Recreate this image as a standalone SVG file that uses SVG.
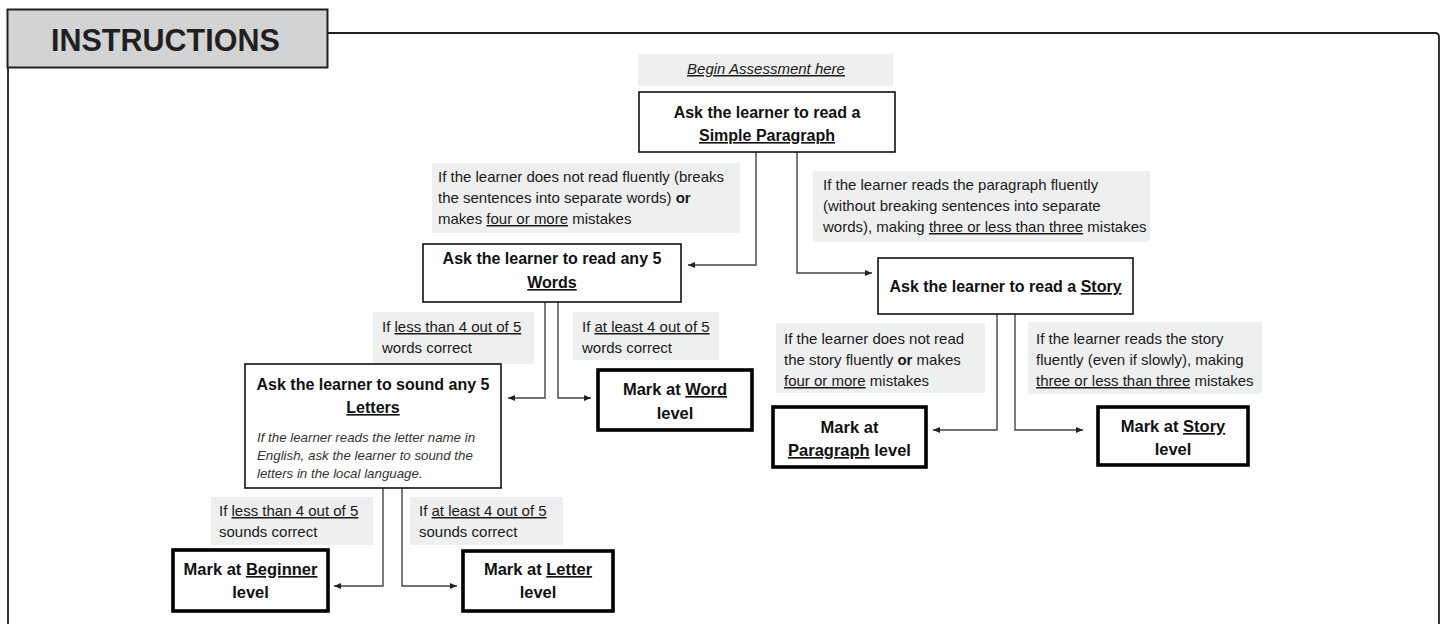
<svg xmlns="http://www.w3.org/2000/svg" width="1447" height="624" viewBox="0 0 1447 624">
<defs>
<style>
.bg{fill:#eeefef;}
.box{fill:#fff;stroke:#111;stroke-width:1.6;}
.mark{fill:#fff;stroke:#000;stroke-width:3.6;}
.t{font-family:"Liberation Sans",Arial,sans-serif;font-size:15px;fill:#1a1a1a;}
.b{font-family:"Liberation Sans",Arial,sans-serif;font-size:16px;font-weight:bold;fill:#111;}
.m{font-family:"Liberation Sans",Arial,sans-serif;font-size:16.5px;font-weight:bold;fill:#111;}
.i{font-family:"Liberation Sans",Arial,sans-serif;font-size:13.3px;font-style:italic;fill:#333;}
.u{text-decoration:underline;}
.conn{fill:none;stroke:#444;stroke-width:1.4;marker-end:url(#ah);}
</style>
<marker id="ah" markerUnits="userSpaceOnUse" markerWidth="8" markerHeight="6" refX="7" refY="3" orient="auto">
<path d="M0,0 L7,3 L0,6 z" fill="#222"/>
</marker>
</defs>
<rect width="1447" height="624" fill="#fff"/>

<g id="frame">
<path d="M327,33 H1435 Q1439,33 1439,37 V624 M8,67 V624" fill="none" stroke="#231f20" stroke-width="1.8"/>
<rect x="7.5" y="9.5" width="320" height="58" fill="#d1d3d4" stroke="#231f20" stroke-width="2"/>
<text x="51" y="51" font-family="Liberation Sans,Arial,sans-serif" font-size="30.5" font-weight="bold" fill="#231f20">INSTRUCTIONS</text>
</g>

<g id="connectors">
<path class="conn" d="M756,152 V265 H688"/>
<path class="conn" d="M797,152 V273 H872"/>
<path class="conn" d="M545,302 V398 H508"/>
<path class="conn" d="M558,302 V398 H591"/>
<path class="conn" d="M383,488 V586 H334"/>
<path class="conn" d="M402,488 V586 H457"/>
<path class="conn" d="M997,314 V430 H933"/>
<path class="conn" d="M1015,314 V430 H1083"/>
</g>

<g id="begin">
<rect class="bg" x="638" y="54" width="255" height="32"/>
<text class="t" x="766" y="74" text-anchor="middle" font-style="italic"><tspan class="u">Begin Assessment here</tspan></text>
</g>

<g id="paragraph-task">
<rect class="box" x="639" y="92" width="256" height="60"/>
<text class="b" x="767" y="118" text-anchor="middle">Ask the learner to read a</text>
<text class="b" x="767" y="141" text-anchor="middle"><tspan class="u">Simple Paragraph</tspan></text>
</g>

<g id="label-not-fluent">
<rect class="bg" x="432" y="163" width="308" height="70"/>
<text class="t" x="438" y="182">If the learner does not read fluently (breaks</text>
<text class="t" x="438" y="203">the sentences into separate words) <tspan font-weight="bold">or</tspan></text>
<text class="t" x="438" y="224">makes <tspan class="u">four or more</tspan> mistakes</text>
</g>

<g id="label-fluent">
<rect class="bg" x="813" y="171" width="337" height="71"/>
<text class="t" x="823" y="190">If the learner reads the paragraph fluently</text>
<text class="t" x="823" y="211">(without breaking sentences into separate</text>
<text class="t" x="823" y="232">words), making <tspan class="u">three or less than three</tspan> mistakes</text>
</g>

<g id="words-task">
<rect class="box" x="423" y="244" width="258" height="58"/>
<text class="b" x="552" y="264" text-anchor="middle">Ask the learner to read any 5</text>
<text class="b" x="552" y="288" text-anchor="middle"><tspan class="u">Words</tspan></text>
</g>

<g id="story-task">
<rect class="box" x="878" y="258" width="255" height="56"/>
<text class="b" x="1005.5" y="292" text-anchor="middle">Ask the learner to read a <tspan class="u">Story</tspan></text>
</g>

<g id="label-words-less">
<rect class="bg" x="373" y="312" width="161" height="52"/>
<text class="t" x="382" y="332">If <tspan class="u">less than 4 out of 5</tspan></text>
<text class="t" x="382" y="353">words correct</text>
</g>

<g id="label-words-atleast">
<rect class="bg" x="573" y="312" width="146" height="48"/>
<text class="t" x="582" y="332">If <tspan class="u">at least 4 out of 5</tspan></text>
<text class="t" x="582" y="353">words correct</text>
</g>

<g id="letters-task">
<rect class="box" x="245" y="364" width="256" height="124"/>
<text class="b" x="373" y="390" text-anchor="middle">Ask the learner to sound any 5</text>
<text class="b" x="373" y="413" text-anchor="middle"><tspan class="u">Letters</tspan></text>
<text class="i" x="257" y="442">If the learner reads the letter name in</text>
<text class="i" x="257" y="460">English, ask the learner to sound the</text>
<text class="i" x="257" y="478">letters in the local language.</text>
</g>

<g id="word-level">
<rect class="mark" x="598" y="370" width="154" height="60"/>
<text class="m" x="675" y="395" text-anchor="middle">Mark at <tspan class="u">Word</tspan></text>
<text class="m" x="675" y="419" text-anchor="middle">level</text>
</g>

<g id="label-sounds-less">
<rect class="bg" x="211" y="497" width="162" height="48"/>
<text class="t" x="219" y="516">If <tspan class="u">less than 4 out of 5</tspan></text>
<text class="t" x="219" y="537">sounds correct</text>
</g>

<g id="label-sounds-atleast">
<rect class="bg" x="410" y="497" width="153" height="48"/>
<text class="t" x="419" y="516">If <tspan class="u">at least 4 out of 5</tspan></text>
<text class="t" x="419" y="537">sounds correct</text>
</g>

<g id="beginner-level">
<rect class="mark" x="173" y="550" width="155" height="61"/>
<text class="m" x="250.5" y="575" text-anchor="middle">Mark at <tspan class="u">Beginner</tspan></text>
<text class="m" x="250.5" y="598" text-anchor="middle">level</text>
</g>

<g id="letter-level">
<rect class="mark" x="463" y="551" width="150" height="60"/>
<text class="m" x="538" y="575" text-anchor="middle">Mark at <tspan class="u">Letter</tspan></text>
<text class="m" x="538" y="598" text-anchor="middle">level</text>
</g>

<g id="label-story-not">
<rect class="bg" x="776" y="323" width="209" height="70"/>
<text class="t" x="784" y="344">If the learner does not read</text>
<text class="t" x="784" y="365">the story fluently <tspan font-weight="bold">or</tspan> makes</text>
<text class="t" x="784" y="386"><tspan class="u">four or more</tspan> mistakes</text>
</g>

<g id="label-story-fluent">
<rect class="bg" x="1028" y="322" width="234" height="72"/>
<text class="t" x="1036" y="344">If the learner reads the story</text>
<text class="t" x="1036" y="365">fluently (even if slowly), making</text>
<text class="t" x="1036" y="386"><tspan class="u">three or less than three</tspan> mistakes</text>
</g>

<g id="paragraph-level">
<rect class="mark" x="773" y="407" width="153" height="60"/>
<text class="m" x="849.5" y="433" text-anchor="middle">Mark at</text>
<text class="m" x="849.5" y="456" text-anchor="middle"><tspan class="u">Paragraph</tspan> level</text>
</g>

<g id="story-level">
<rect class="mark" x="1098" y="407" width="150" height="58"/>
<text class="m" x="1173" y="432" text-anchor="middle">Mark at <tspan class="u">Story</tspan></text>
<text class="m" x="1173" y="455" text-anchor="middle">level</text>
</g>
</svg>
